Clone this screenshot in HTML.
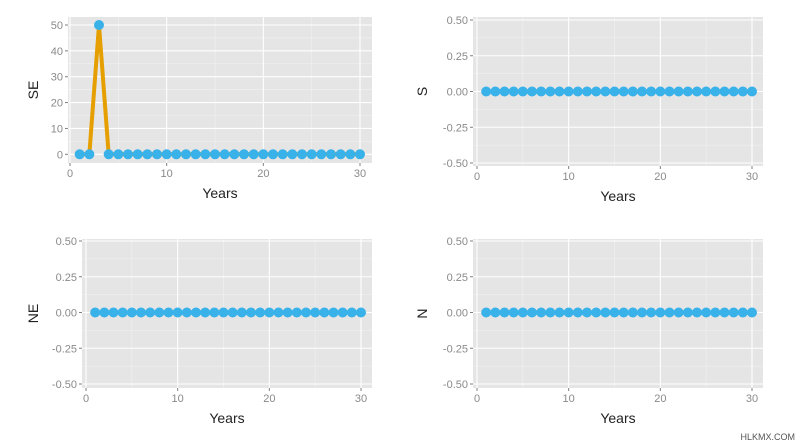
<!DOCTYPE html>
<html><head><meta charset="utf-8"><style>
body{margin:0;background:#fff;}
svg{display:block;font-family:"Liberation Sans",Arial,sans-serif;}
</style></head><body>
<svg id="chart" width="800" height="443" viewBox="0 0 800 443" xmlns="http://www.w3.org/2000/svg">
<text x="795" y="440" font-size="9" fill="#555" text-anchor="end">HLKMX.COM</text>
</svg>
<script>
const years = Array.from({length:30},(_,i)=>i+1);
const seValues = [0,0,50,0,0,0,0,0,0,0,0,0,0,0,0,0,0,0,0,0,0,0,0,0,0,0,0,0,0,0];
const sValues = [0,0,0,0,0,0,0,0,0,0,0,0,0,0,0,0,0,0,0,0,0,0,0,0,0,0,0,0,0,0];
const neValues = [0,0,0,0,0,0,0,0,0,0,0,0,0,0,0,0,0,0,0,0,0,0,0,0,0,0,0,0,0,0];
const nValues = [0,0,0,0,0,0,0,0,0,0,0,0,0,0,0,0,0,0,0,0,0,0,0,0,0,0,0,0,0,0];
const xTicks = [0,10,20,30];
const seTicks = [0,10,20,30,40,50];
const smallTicks = [-0.5,-0.25,0,0.25,0.5];
const smallTickLabels = ["-0.50","-0.25","0.00","0.25","0.50"];

const NS="http://www.w3.org/2000/svg";
const svg=document.getElementById('chart');
function mk(tag,attrs,parent){const e=document.createElementNS(NS,tag);for(const k in attrs)e.setAttribute(k,attrs[k]);(parent||svg).appendChild(e);return e;}

function panel(cfg){
  const g=mk('g',{});
  
  
  const xs=v=>cfg.x0+v*(cfg.x30-cfg.x0)/30;
  const ys=v=>cfg.yb+(v-cfg.ymin)*(cfg.yt-cfg.yb)/(cfg.ymax-cfg.ymin);
  const bg=mk('rect',{x:cfg.l,y:cfg.t,width:cfg.r-cfg.l,height:cfg.b-cfg.t,fill:'#e5e5e5'},g);
  
  
  // minor grid
  [5,15,25].forEach(v=>mk('line',{x1:xs(v),x2:xs(v),y1:cfg.t,y2:cfg.b,stroke:'#f2f2f2','stroke-width':0.6},g));
  for(let i=0;i<cfg.ticks.length-1;i++){const m=(cfg.ticks[i]+cfg.ticks[i+1])/2;mk('line',{x1:cfg.l,x2:cfg.r,y1:ys(m),y2:ys(m),stroke:'#f2f2f2','stroke-width':0.6},g);}
  xTicks.forEach(v=>{
    mk('line',{x1:xs(v),x2:xs(v),y1:cfg.t,y2:cfg.b,stroke:'#fff','stroke-width':1.1},g);
    mk('line',{x1:xs(v),x2:xs(v),y1:cfg.b,y2:cfg.b+3,stroke:'#7f7f7f','stroke-width':1},g);
    const t=mk('text',{x:xs(v),y:cfg.b+14,'font-size':11,fill:'#8a8a8a','text-anchor':'middle'},g);t.textContent=v;
    
    
  });
  cfg.ticks.forEach((v,i)=>{
    mk('line',{x1:cfg.l,x2:cfg.r,y1:ys(v),y2:ys(v),stroke:'#fff','stroke-width':1.1},g);
    mk('line',{x1:cfg.l-3,x2:cfg.l,y1:ys(v),y2:ys(v),stroke:'#7f7f7f','stroke-width':1},g);
    const t=mk('text',{x:cfg.l-5,y:ys(v)+4,'font-size':11,fill:'#8a8a8a','text-anchor':'end'},g);t.textContent=cfg.labels[i];
    
    
  });
  const pts=years.map((yr,i)=>xs(yr)+','+ys(cfg.vals[i])).join(' ');
  const hasNonZero=cfg.vals.some(v=>v!==0);
  if(hasNonZero){
    const pl=mk('polyline',{points:pts,fill:'none',stroke:'#e69f00','stroke-width':4,'stroke-linejoin':'round'},g);
    
    
  }
  years.forEach((yr,i)=>{
    const c=mk('circle',{cx:xs(yr),cy:ys(cfg.vals[i]),r:5,fill:'#39b1e9'},g);
    
    
  });
  const xt=mk('text',{x:(cfg.l+cfg.r)/2,y:cfg.b+35,'font-size':14,fill:'#222','text-anchor':'middle'},g);xt.textContent='Years';
  
  
  const yt=mk('text',{x:0,y:0,'font-size':14,fill:'#222','text-anchor':'middle',transform:`translate(${cfg.ytx},${(cfg.t+cfg.b)/2}) rotate(-90)`},g);yt.textContent=cfg.name;
  
  
}
panel({name:'SE',l:68,r:372,t:17,b:163,x0:70,x30:360,yb:154.3,yt:25,ymin:0,ymax:50,ticks:seTicks,labels:seTicks.map(String),vals:seValues,ytx:38});
panel({name:'S',l:473,r:763,t:17,b:166,x0:477,x30:752,yb:163,yt:20,ymin:-0.5,ymax:0.5,ticks:smallTicks,labels:smallTickLabels,vals:sValues,ytx:427});
panel({name:'NE',l:82,r:372,t:239,b:388,x0:86,x30:361,yb:384,yt:241,ymin:-0.5,ymax:0.5,ticks:smallTicks,labels:smallTickLabels,vals:neValues,ytx:38});
panel({name:'N',l:473,r:763,t:239,b:388,x0:477,x30:752,yb:384,yt:241,ymin:-0.5,ymax:0.5,ticks:smallTicks,labels:smallTickLabels,vals:nValues,ytx:427});
</script>
</body></html>
